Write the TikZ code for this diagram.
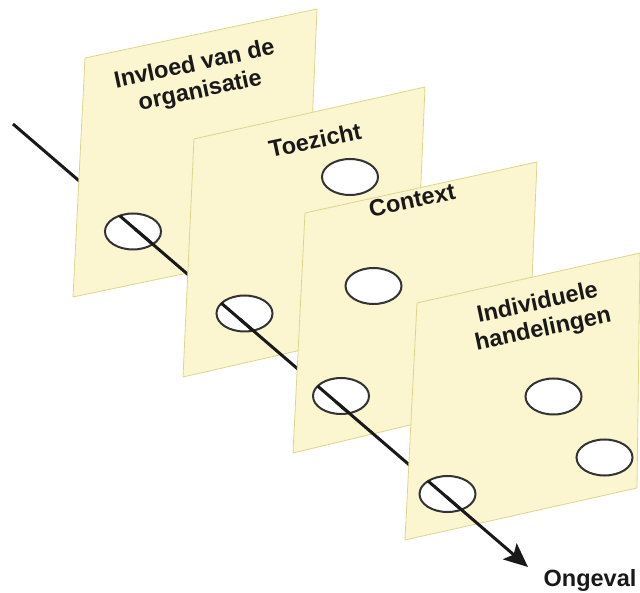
\documentclass[tikz,border=0pt]{standalone}
\usepackage{fontspec}
\setmainfont{Liberation Sans}
\usetikzlibrary{shapes.geometric,arrows.meta,calc}

\definecolor{panelfill}{RGB}{251,245,208}
\definecolor{paneledge}{RGB}{220,214,140}

\tikzset{
  panel/.style={fill=panelfill, draw=paneledge, line width=0.8pt},
  hole/.style={ellipse, draw=black!80, fill=white, line width=2pt, minimum width=56pt, minimum height=36pt, inner sep=0pt},
  layer/.style={font=\fontsize{23.5}{27}\selectfont\bfseries, align=center, rotate=12, inner sep=0pt, text=black!90},
  ray/.style={line width=3pt, black!90},
}

% the ray seen through a hole
\newcommand{\throughhole}[1]{%
  \begin{scope}
    \clip (#1) ellipse [x radius=28pt, y radius=18pt];
    \draw[ray] (start) -- (end);
  \end{scope}}

\begin{document}
\begin{tikzpicture}[x=1pt, y=-1pt]
  \useasboundingbox (0,0) rectangle (640,593);
  \coordinate (start) at (13,124);
  \coordinate (end) at (528,567);
  % hole centres on the ray
  \coordinate (o1) at (133,231.5);
  \coordinate (o2) at (244.5,313.5);
  \coordinate (o3) at (341,396);
  \coordinate (o4) at (447.5,494);

  \draw[ray] (start) -- ($(start)!(o1)!(end)$);

  % organisatie
  \draw[panel] (85,58) -- (317,9) -- (307,248) -- (73,297) -- cycle;
  \node[layer] (org) at (197.5,78.5) {Invloed van de\\organisatie};
  \node[hole] (h1) at (o1) {};
  \throughhole{o1}
  \draw[ray] ($(start)!(o1)!(end)$) -- ($(start)!(o2)!(end)$);

  % toezicht
  \draw[panel] (194,139) -- (425,87) -- (415,324) -- (183,377) -- cycle;
  \node[layer] (toez) at (315,140) {Toezicht};
  \node[hole] (t1) at (350,177) {};
  \node[hole] (h2) at (o2) {};
  \throughhole{o2}
  \draw[ray] ($(start)!(o2)!(end)$) -- ($(start)!(o3)!(end)$);

  % context
  \draw[panel] (305,213) -- (537,162) -- (527,397) -- (293,453) -- cycle;
  \node[layer] (ctx) at (412,200) {Context};
  \node[hole] (x1) at (373.5,286) {};
  \node[hole] (h3) at (o3) {};
  \throughhole{o3}
  \draw[ray] ($(start)!(o3)!(end)$) -- ($(start)!(o4)!(end)$);

  % individuele handelingen
  \draw[panel] (417,303) -- (640,253) -- (637,488) -- (405,540) -- cycle;
  \node[layer] (indiv) at (540.5,317) {Individuele\\handelingen};
  \node[hole] (i1) at (553.5,396.5) {};
  \node[hole] (i2) at (604.5,457.5) {};
  \node[hole] (h4) at (o4) {};
  \throughhole{o4}
  \draw[ray, -{Stealth[length=24pt, width=21pt, inset=5pt]}] ($(start)!(o4)!(end)$) -- (end);

  \node[font=\fontsize{23.5}{27}\selectfont\bfseries, text=black!90, inner sep=0pt] (ongeval) at (590,580) {Ongeval};
\end{tikzpicture}
\end{document}
